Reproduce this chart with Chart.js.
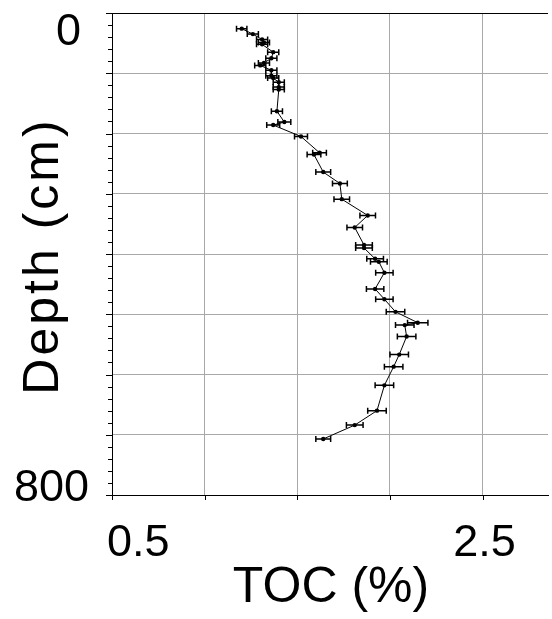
<!DOCTYPE html>
<html>
<head>
<meta charset="utf-8">
<script src="https://cdn.jsdelivr.net/npm/chart.js@4.4.0/dist/chart.umd.min.js"></script>
<style>
  html, body { margin: 0; padding: 0; background: #fff; overflow: hidden; }
</style>
</head>
<body>
<canvas id="tocChart" width="552" height="619"></canvas>
<script>
// TOC profile
const depth = [26, 35, 44, 49, 52, 65, 75, 83, 87, 95,
  104, 108, 115, 123, 127, 163, 181, 186, 205, 232,
  235, 264, 283, 309, 336, 356, 385, 390, 408, 413,
  431, 458, 475, 496, 514, 518, 537, 567, 587, 618,
  660, 684, 707];
const toc = [1.20, 1.26, 1.31, 1.32, 1.31, 1.37, 1.36, 1.32, 1.30, 1.36,
  1.36, 1.37, 1.40, 1.40, 1.40, 1.39, 1.43, 1.37, 1.52, 1.62,
  1.59, 1.64, 1.73, 1.74, 1.88, 1.81, 1.86, 1.86, 1.92, 1.94,
  1.97, 1.92, 1.97, 2.03, 2.15, 2.08, 2.09, 2.05, 2.02, 1.97,
  1.93, 1.81, 1.64];
const tocErr = [0.028, 0.03, 0.03, 0.03, 0.03, 0.03, 0.03, 0.03, 0.03, 0.03,
  0.03, 0.03, 0.03, 0.03, 0.03, 0.03, 0.035, 0.035, 0.035, 0.037,
  0.037, 0.04, 0.04, 0.042, 0.042, 0.042, 0.045, 0.045, 0.045, 0.045,
  0.047, 0.047, 0.047, 0.05, 0.055, 0.05, 0.05, 0.05, 0.05, 0.05,
  0.05, 0.045, 0.04];
const xTicks = [0.5, 1.0, 1.5, 2.0, 2.5];
const xLabels = ['0.5', '2.5'];
const yLabels = ['0', '800'];

const FONT = '"Liberation Sans", Arial, sans-serif';

// horizontal error bars with caps
const errorBars = {
  id: 'errorBars',
  afterDatasetsDraw(chart) {
    const { ctx, scales: { x, y } } = chart;
    ctx.save();
    ctx.strokeStyle = '#000';
    ctx.lineWidth = 1.5;
    toc.forEach((v, i) => {
      const py = y.getPixelForValue(depth[i]);
      const x0 = x.getPixelForValue(v - tocErr[i]);
      const x1 = x.getPixelForValue(v + tocErr[i]);
      ctx.beginPath();
      ctx.moveTo(x0, py); ctx.lineTo(x1, py);
      ctx.moveTo(x0, py - 3); ctx.lineTo(x0, py + 3);
      ctx.moveTo(x1, py - 3); ctx.lineTo(x1, py + 3);
      ctx.stroke();
    });
    ctx.restore();
  }
};

// frame, outside ticks, labels and titles
const axisDecor = {
  id: 'axisDecor',
  afterDraw(chart) {
    const { ctx, chartArea: a, scales: { x, y } } = chart;
    ctx.save();
    ctx.strokeStyle = '#000';
    ctx.lineWidth = 1;
    ctx.beginPath();
    // top line
    ctx.moveTo(a.left - 6, Math.round(a.top) + 0.5);
    ctx.lineTo(a.right, Math.round(a.top) + 0.5);
    // y ticks (major every 100, minor every 20)
    for (let d = 0; d <= 800; d += 20) {
      const py = Math.round(y.getPixelForValue(d)) + 0.5;
      ctx.moveTo(a.left - (d % 100 === 0 ? 6 : 4), py);
      ctx.lineTo(a.left, py);
    }
    // x ticks
    xTicks.forEach(v => {
      const px = Math.round(x.getPixelForValue(v)) + 0.5;
      ctx.moveTo(px, a.bottom);
      ctx.lineTo(px, a.bottom + 5);
    });
    ctx.stroke();

    ctx.fillStyle = '#000';
    ctx.font = '45px ' + FONT;
    ctx.textBaseline = 'alphabetic';
    ctx.textAlign = 'right';
    ctx.fillText(yLabels[0], a.left - 31, y.getPixelForValue(0) + 32);
    ctx.fillText(yLabels[1], a.left - 23, y.getPixelForValue(800) + 6);
    ctx.textAlign = 'left';
    ctx.fillText(xLabels[0], x.getPixelForValue(0.5) - 5, a.bottom + 61);
    ctx.textAlign = 'center';
    ctx.fillText(xLabels[1], x.getPixelForValue(2.5) + 2, a.bottom + 61);

    ctx.font = '50px ' + FONT;
    ctx.fillText('TOC (%)', 331, a.bottom + 107);
    ctx.translate(58, y.getPixelForValue(400) + 2);
    ctx.rotate(-Math.PI / 2);
    ctx.letterSpacing = '3px';
    ctx.fillText('Depth (cm)', 0, 0);
    ctx.restore();
  }
};

const ctx = document.getElementById('tocChart');
new Chart(ctx, {
  type: 'scatter',
  data: {
    datasets: [{
      label: 'TOC',
      data: toc.map((v, i) => ({ x: v, y: depth[i] })),
      showLine: true,
      borderColor: '#000',
      borderWidth: 1,
      backgroundColor: '#000',
      pointRadius: 2.2,
      pointBorderWidth: 0
    }]
  },
  options: {
    responsive: false,
    animation: false,
    events: [],
    layout: { padding: { left: 112, top: 13, right: 0, bottom: 124 } },
    plugins: { legend: { display: false }, tooltip: { enabled: false } },
    scales: {
      x: {
        type: 'linear',
        min: 0.5,
        max: 2.853,
        afterBuildTicks: s => { s.ticks = xTicks.map(v => ({ value: v })); },
        afterFit: s => { s.height = 0; },
        ticks: { display: false },
        grid: { color: '#a8a8a8', lineWidth: 1, drawTicks: false },
        border: { color: '#000', width: 1 }
      },
      y: {
        type: 'linear',
        reverse: true,
        min: 0,
        max: 800,
        ticks: { stepSize: 100, display: false },
        afterFit: s => { s.width = 0; },
        grid: { color: '#a8a8a8', lineWidth: 1, drawTicks: false },
        border: { color: '#000', width: 1 }
      }
    }
  },
  plugins: [errorBars, axisDecor]
});
</script>
</body>
</html>
